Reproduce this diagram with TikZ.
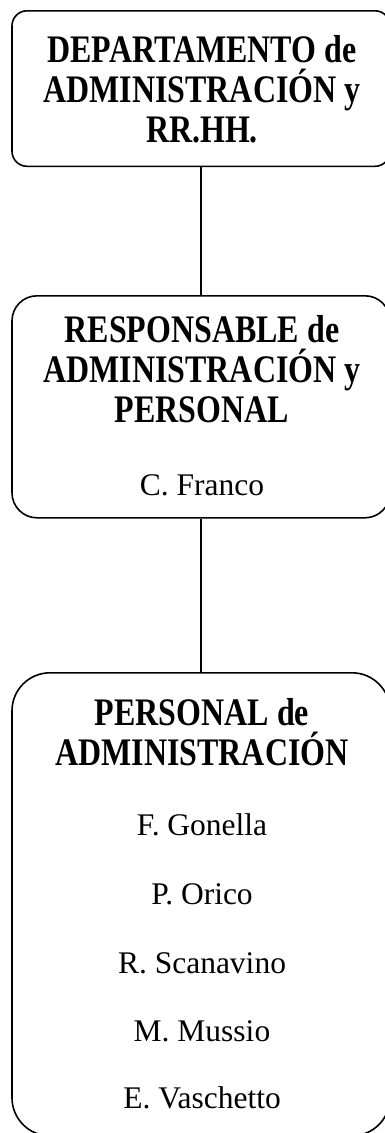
\documentclass[tikz,border=0pt]{standalone}
\usepackage{fontspec}
\setmainfont{Liberation Serif}
\newfontfamily\hd{Liberation Serif}[FakeStretch=0.82]
\begin{document}
\begin{tikzpicture}[x=1pt,y=1pt,
  box/.style={draw=black, line width=1.6pt, fill=none, inner sep=0pt, anchor=north, minimum width=378pt},
  ttl/.style={anchor=base, inner sep=0pt, font=\hd\bfseries\fontsize{39}{40}\selectfont},
  nm/.style={anchor=base, inner sep=0pt, font=\fontsize{31.5}{36}\selectfont},
  link/.style={line width=1.6pt}]
\useasboundingbox (0,0) rectangle (385,-1133);
\clip (0,0) rectangle (385,-1133);
% boxes
\node[box, rounded corners=15pt, minimum height=155.5pt] (b1) at (201,-10) {};
\node[box, rounded corners=25pt, minimum height=222pt] (b2) at (201,-295) {};
\node[box, rounded corners=38pt, minimum height=463pt] (b3) at (201,-672) {};
% connectors
\draw[link] (b1.south) -- (b2.north);
\draw[link] (b2.south) -- (b3.north);
% box 1 text
\node[ttl] (t1a) at (202,-62) {DEPARTAMENTO de};
\node[ttl] (t1b) at (202,-102) {ADMINISTRACIÓN y};
\node[ttl] (t1c) at (202,-142) {RR.HH.};
% box 2 text
\node[ttl] (t2a) at (202,-342) {RESPONSABLE de};
\node[ttl] (t2b) at (202,-382) {ADMINISTRACIÓN y};
\node[ttl] (t2c) at (202,-422) {PERSONAL};
\node[nm] (n2a) at (202,-495) {C. Franco};
% box 3 text
\node[ttl] (t3a) at (202,-725) {PERSONAL de};
\node[ttl] (t3b) at (202,-765) {ADMINISTRACIÓN};
\node[nm] (n3a) at (202,-835) {F. Gonella};
\node[nm] (n3b) at (202,-904) {P. Orico};
\node[nm] (n3c) at (202,-973) {R. Scanavino};
\node[nm] (n3d) at (202,-1041) {M. Mussio};
\node[nm] (n3e) at (202,-1108) {E. Vaschetto};
\end{tikzpicture}
\end{document}
